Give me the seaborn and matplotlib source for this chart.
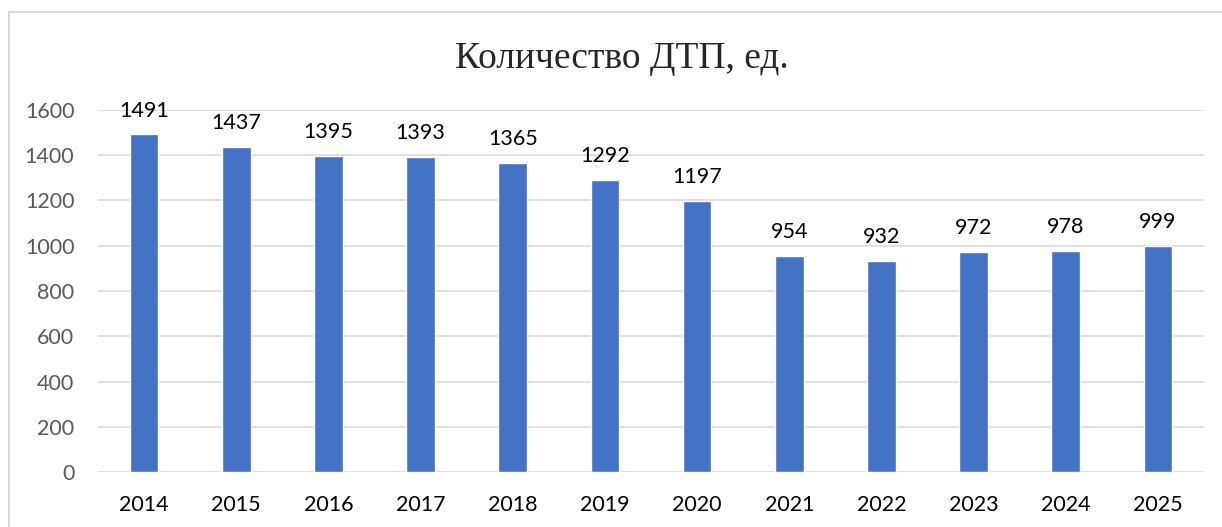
import pandas as pd
import matplotlib
matplotlib.use('Agg')
import matplotlib.pyplot as plt
import seaborn as sns
from matplotlib.patches import Rectangle

# Data
years = ['2014', '2015', '2016', '2017', '2018', '2019', '2020',
         '2021', '2022', '2023', '2024', '2025']
accidents = [1491, 1437, 1395, 1393, 1365, 1292, 1197, 954, 932, 972, 978, 999]
y_ticks = [0, 200, 400, 600, 800, 1000, 1200, 1400, 1600]

df = pd.DataFrame({'year': years, 'count': accidents})

sns.set_style('white')
plt.rcParams['font.family'] = ['Lato', 'DejaVu Sans']

fig = plt.figure(figsize=(12.22, 5.27), dpi=100)
ax = fig.add_axes([0.0802, 0.1038, 0.9051, 0.688])

sns.barplot(x='year', y='count', data=df, color='#4472C4', width=0.31,
            saturation=1, ax=ax, zorder=3)
ax.bar_label(ax.containers[0], padding=10, fontsize=15.5, color='black')

ax.set_ylim(0, 1600)
ax.set_xlim(-0.5, len(years) - 0.5)
ax.set_yticks(y_ticks)
ax.yaxis.grid(True, color='#d9d9d9', linewidth=1.1, zorder=0)
ax.set_axisbelow(True)
for s in ax.spines.values():
    s.set_visible(False)
ax.tick_params(axis='y', length=0, pad=17, labelsize=15.5, labelcolor='#595959')
ax.tick_params(axis='x', length=0, pad=16, labelsize=15.5, labelcolor='black')
ax.set_xlabel('')
ax.set_ylabel('')

fig.text(0.509, 0.888, 'Количество ДТП, ед.', ha='center', va='center',
         fontsize=27, family=['Liberation Serif', 'DejaVu Serif'])

# chart frame
fig.patches.append(Rectangle((9 / 1222, -0.1), 1.2, 1 - 12 / 527 + 0.1,
                             transform=fig.transFigure, fill=False,
                             edgecolor='#d9d9d9', linewidth=1.5))

fig.savefig('out.png', dpi=100)
